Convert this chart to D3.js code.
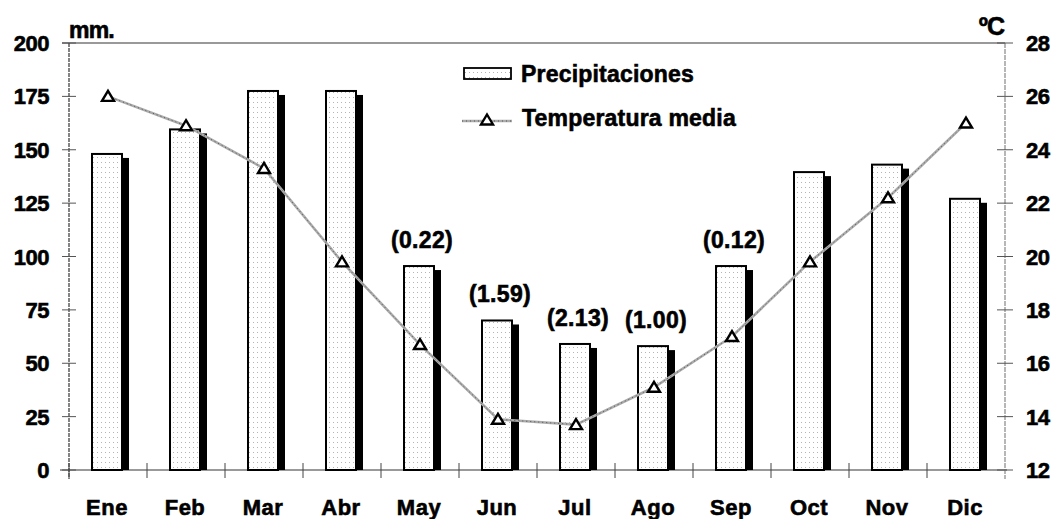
<!DOCTYPE html>
<html>
<head>
<meta charset="utf-8">
<script src="https://cdn.jsdelivr.net/npm/d3@7"></script>
<style>
  html, body { margin: 0; padding: 0; background: #fff; }
  svg { display: block; font-family: "Liberation Sans", Arial, sans-serif; font-weight: bold; }
  text { fill: #000; stroke: #000; stroke-width: 0.6px; }
</style>
</head>
<body>
<svg id="chart" width="1056" height="519"></svg>
<script>
// Monthly climate data
const months = ["Ene", "Feb", "Mar", "Abr", "May", "Jun", "Jul", "Ago", "Sep", "Oct", "Nov", "Dic"];
const precipitation = [148.5, 160, 178, 178, 96, 70.5, 59.5, 58.5, 96, 140, 143.5, 127.5];
const temperature = [26.0, 24.9, 23.3, 19.8, 16.7, 13.9, 13.7, 15.1, 17.0, 19.8, 22.2, 25.0];
const noteMonths = ["May", "Jun", "Jul", "Ago", "Sep"];
const noteTexts = ["(0.22)", "(1.59)", "(2.13)", "(1.00)", "(0.12)"];
const precipTicks = [0, 25, 50, 75, 100, 125, 150, 175, 200];
const tempTicks = [12, 14, 16, 18, 20, 22, 24, 26, 28];

const svg = d3.select("#chart");
const plotLeft = 69, plotRight = 1005, plotTop = 43, plotBottom = 470;

const x = d3.scaleBand().domain(months).range([plotLeft, plotRight]);
const yP = d3.scaleLinear().domain([0, 200]).range([plotBottom, plotTop]);
const yT = d3.scaleLinear().domain([12, 28]).range([plotBottom, plotTop]);

// dotted fill for the bars
const defs = svg.append("defs");
const pat = defs.append("pattern").attr("id", "dots")
  .attr("patternUnits", "userSpaceOnUse").attr("width", 4).attr("height", 5);
pat.append("rect").attr("width", 4).attr("height", 5).attr("fill", "#fff");
pat.append("rect").attr("x", 1).attr("y", 2).attr("width", 1).attr("height", 1).attr("fill", "#b4b4b4");

// frame lines
svg.append("line").attr("x1", 62).attr("x2", plotRight).attr("y1", plotTop).attr("y2", plotTop)
  .attr("stroke", "#777").attr("stroke-width", 1.5);
svg.append("line").attr("x1", 60).attr("x2", plotRight + 2).attr("y1", plotBottom).attr("y2", plotBottom)
  .attr("stroke", "#777").attr("stroke-width", 1.5);
svg.append("line").attr("x1", plotLeft).attr("x2", plotLeft).attr("y1", plotTop).attr("y2", plotBottom + 9)
  .attr("stroke", "#333").attr("stroke-width", 1.2).attr("stroke-dasharray", "4,1");
svg.append("line").attr("x1", plotRight).attr("x2", plotRight).attr("y1", plotTop).attr("y2", plotBottom + 9)
  .attr("stroke", "#888").attr("stroke-width", 1.2).attr("stroke-dasharray", "5,1");

// left axis ticks and labels
const gl = svg.append("g");
gl.selectAll("line").data(precipTicks).join("line")
  .attr("x1", plotLeft - 7).attr("x2", plotLeft + 7)
  .attr("y1", d => yP(d)).attr("y2", d => yP(d))
  .attr("stroke", "#555").attr("stroke-width", 1);
gl.selectAll("text").data(precipTicks).join("text")
  .attr("x", 49).attr("y", d => yP(d) + 8)
  .attr("text-anchor", "end").attr("font-size", 22).attr("letter-spacing", -0.5)
  .text(d => d);

// right axis ticks and labels
const gr = svg.append("g");
gr.selectAll("line").data(tempTicks).join("line")
  .attr("x1", plotRight - 8).attr("x2", plotRight + 8)
  .attr("y1", d => yT(d)).attr("y2", d => yT(d))
  .attr("stroke", "#555").attr("stroke-width", 1);
gr.selectAll("text").data(tempTicks).join("text")
  .attr("x", 1026).attr("y", d => yT(d) + 8)
  .attr("text-anchor", "start").attr("font-size", 22).attr("letter-spacing", -0.5)
  .text(d => d);

// category boundary ticks along the bottom
const bounds = months.map(m => x(m));
svg.append("g").selectAll("line").data(bounds).join("line")
  .attr("x1", d => d).attr("x2", d => d)
  .attr("y1", plotBottom - 7).attr("y2", plotBottom + 8)
  .attr("stroke", "#444").attr("stroke-width", 1);

// month labels
svg.append("g").selectAll("text").data(months).join("text")
  .attr("x", d => x(d) + x.bandwidth() / 2 - 1).attr("y", 515)
  .attr("text-anchor", "middle").attr("font-size", 22).attr("letter-spacing", 0.5)
  .text(d => d);

// units
svg.append("text").attr("x", 69).attr("y", 38).attr("font-size", 23).attr("letter-spacing", -0.8).text("mm.");
svg.append("text").attr("x", 1004).attr("y", 35).attr("text-anchor", "end").attr("font-size", 25).attr("letter-spacing", -1).text("ºC");

// precipitation bars with shadow
const cx = m => x(m) + x.bandwidth() / 2;
const bars = svg.append("g");
bars.selectAll("rect.shadow").data(months).join("rect").attr("class", "shadow")
  .attr("x", (m) => cx(m) + 15)
  .attr("y", (m, i) => yP(precipitation[i]) + 5)
  .attr("width", 6)
  .attr("height", (m, i) => plotBottom - yP(precipitation[i]) - 5)
  .attr("fill", "#000");
bars.selectAll("rect.bar").data(months).join("rect").attr("class", "bar")
  .attr("x", m => cx(m) - 16)
  .attr("y", (m, i) => yP(precipitation[i]) + 1)
  .attr("width", 30)
  .attr("height", (m, i) => plotBottom - yP(precipitation[i]) - 1)
  .attr("fill", "url(#dots)").attr("stroke", "#000").attr("stroke-width", 2);

// annotations above summer bars
svg.append("g").selectAll("text").data(noteMonths).join("text")
  .attr("x", m => cx(m) + 2)
  .attr("y", m => yP(precipitation[months.indexOf(m)]) - 17)
  .attr("text-anchor", "middle").attr("font-size", 23).attr("letter-spacing", 0.3)
  .text((m, i) => noteTexts[i]);

// temperature line
const line = d3.line().x(d => cx(d.m)).y(d => yT(d.t));
const tdata = months.map((m, i) => ({ m, t: temperature[i] }));
svg.append("path").datum(tdata).attr("d", line)
  .attr("fill", "none").attr("stroke", "#ababab").attr("stroke-width", 2.6);
svg.append("path").datum(tdata).attr("d", line)
  .attr("fill", "none").attr("stroke", "#555").attr("stroke-width", 1).attr("stroke-dasharray", "1,3");

const tri = "M0,-5.5L6,4.5L-6,4.5Z";
svg.append("g").selectAll("path").data(tdata).join("path")
  .attr("transform", d => `translate(${cx(d.m)},${yT(d.t)})`)
  .attr("d", tri).attr("fill", "#fff").attr("stroke", "#000").attr("stroke-width", 2.4)
  .attr("stroke-linejoin", "miter");

// legend
const lg = svg.append("g");
lg.append("rect").attr("x", 464).attr("y", 68).attr("width", 47).attr("height", 11)
  .attr("fill", "url(#dots)").attr("stroke", "#000").attr("stroke-width", 1.8);
lg.append("text").attr("x", 521).attr("y", 82).attr("font-size", 23).attr("letter-spacing", 0.2).text("Precipitaciones");
lg.append("line").attr("x1", 462).attr("x2", 512).attr("y1", 121).attr("y2", 121)
  .attr("stroke", "#ababab").attr("stroke-width", 2.6);
lg.append("line").attr("x1", 462).attr("x2", 512).attr("y1", 121).attr("y2", 121)
  .attr("stroke", "#555").attr("stroke-width", 1).attr("stroke-dasharray", "1,3");
lg.append("path").attr("transform", "translate(487,120)").attr("d", tri)
  .attr("fill", "#fff").attr("stroke", "#000").attr("stroke-width", 2.4);
lg.append("text").attr("x", 522).attr("y", 126).attr("font-size", 23).attr("letter-spacing", 0.2).text("Temperatura media");
</script>
</body>
</html>
